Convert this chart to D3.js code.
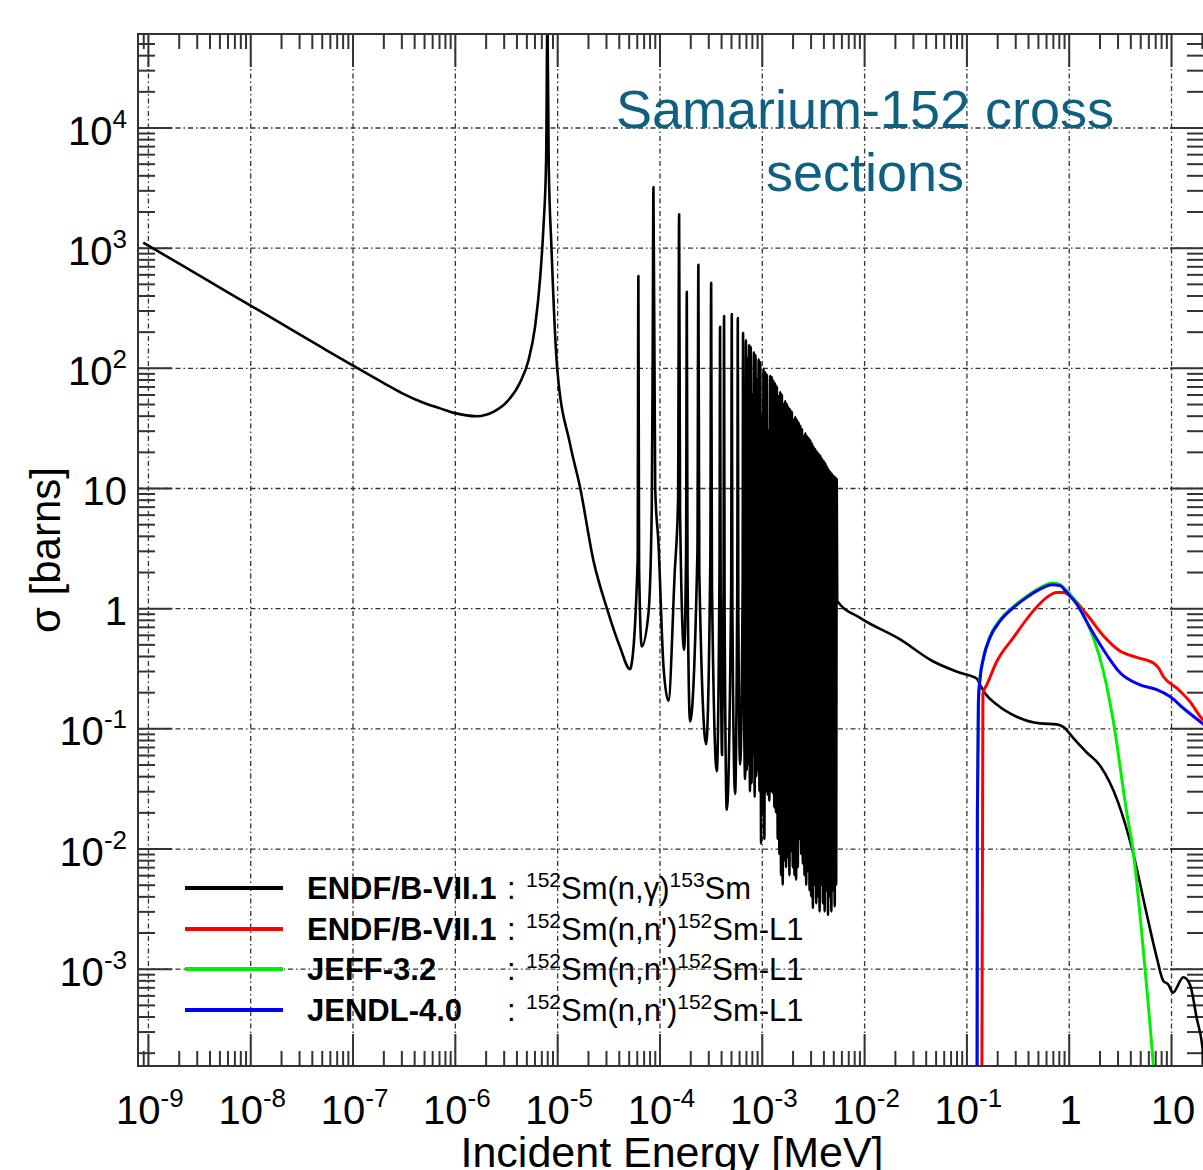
<!DOCTYPE html>
<html>
<head>
<meta charset="utf-8">
<script src="https://cdn.jsdelivr.net/npm/d3@7"></script>
<style>
  body { margin: 0; background: #fff; }
  svg { display: block; font-family: "Liberation Sans", Arial, Helvetica, sans-serif; }
</style>
</head>
<body>
<div id="chart"></div>
<script>
// ---- data (energy in MeV, cross section in barns) ----

// axis ticks
const xTickValues = [1e-9, 1e-8, 1e-7, 1e-6, 1e-5, 1e-4, 1e-3, 1e-2, 1e-1, 1, 10];
const xTickLabels = [["10", "-9"], ["10", "-8"], ["10", "-7"], ["10", "-6"], ["10", "-5"], ["10", "-4"],
  ["10", "-3"], ["10", "-2"], ["10", "-1"], ["1", ""], ["10", ""]];
const yTickValues = [1e-3, 1e-2, 1e-1, 1, 10, 100, 1e3, 1e4];
const yTickLabels = [["10", "-3"], ["10", "-2"], ["10", "-1"], ["1", ""], ["10", ""], ["10", "2"], ["10", "3"], ["10", "4"]];

// ENDF/B-VII.1 152Sm(n,g) : thermal 1/v part and the 8 eV resonance
const ngThermal = [
  [9.0e-10, 1100], [2e-9, 740], [5e-9, 468], [1e-8, 331], [2e-8, 234], [5e-8, 148], [1e-7, 105],
  [2e-7, 75], [3e-7, 62], [5e-7, 51], [7.2e-7, 46], [1.0e-6, 42], [1.64e-6, 39.6], [2.38e-6, 43],
  [3.22e-6, 52], [4.35e-6, 76], [5.24e-6, 115], [6.1e-6, 224], [6.82e-6, 560], [7.35e-6, 1500],
  [7.8e-6, 5300], [8.03e-6, 80000], [8.27e-6, 5000], [8.8e-6, 1000], [1.0e-5, 100], [1.34e-5, 23],
  [1.68e-5, 10], [2.26e-5, 2.5], [3.06e-5, 1.0], [4.13e-5, 0.47], [5.16e-5, 0.31]
];

// isolated resolved resonances
const ngResonances = [
  [5.25e-5, 0.32], [6.12e-5, 2.5], [6.22e-5, 580], [6.32e-5, 2.2], [6.71e-5, 0.48], [7.8e-5, 0.9],
  [8.41e-5, 6.8], [8.6e-5, 190], [8.73e-5, 3200], [9.08e-5, 10], [9.77e-5, 3.5], [1.094e-4, 0.33],
  [1.222e-4, 0.17], [1.41e-4, 2.0], [1.52e-4, 8], [1.556e-4, 1900], [1.59e-4, 6], [1.74e-4, 0.45],
  [1.82e-4, 3], [1.85e-4, 430], [1.88e-4, 2], [1.99e-4, 0.114], [2.35e-4, 3], [2.40e-4, 720],
  [2.45e-4, 2], [2.86e-4, 0.074], [3.14e-4, 2.5], [3.2e-4, 510], [3.26e-4, 1.5], [3.63e-4, 0.044],
  [3.86e-4, 2], [3.91e-4, 220], [3.96e-4, 1.5], [4.09e-4, 0.06], [4.23e-4, 1.5], [4.28e-4, 270],
  [4.33e-4, 1], [4.55e-4, 0.021], [5.02e-4, 1.5], [5.09e-4, 280], [5.16e-4, 1], [5.48e-4, 0.0285],
  [5.76e-4, 1.5], [5.83e-4, 260], [5.9e-4, 1], [6.14e-4, 0.05], [6.5e-4, 1.5], [6.56e-4, 195],
  [6.63e-4, 1], [6.87e-4, 0.038]
];

// dense resonance forest, peak / valley pairs
const ngForest = [
  [0.700e-3, 170], [0.712e-3, 0.045], [0.725e-3, 120], [0.738e-3, 0.05], [0.752e-3, 155], [0.766e-3, 0.03],
  [0.780e-3, 150], [0.795e-3, 0.035], [0.810e-3, 60], [0.824e-3, 0.06], [0.838e-3, 135], [0.852e-3, 0.027],
  [0.868e-3, 128], [0.884e-3, 0.04], [0.900e-3, 80], [0.916e-3, 0.045], [0.932e-3, 118], [0.949e-3, 0.03],
  [0.966e-3, 112], [0.984e-3, 0.011], [1.002e-3, 40], [1.020e-3, 0.02], [1.040e-3, 98], [1.060e-3, 0.012],
  [1.080e-3, 92], [1.100e-3, 0.03], [1.121e-3, 88], [1.142e-3, 0.028], [1.163e-3, 30], [1.185e-3, 0.025],
  [1.208e-3, 86], [1.231e-3, 0.03], [1.254e-3, 84], [1.278e-3, 0.029], [1.302e-3, 78], [1.327e-3, 0.022],
  [1.352e-3, 74], [1.378e-3, 0.02], [1.404e-3, 70], [1.431e-3, 0.012], [1.458e-3, 58], [1.486e-3, 0.009],
  [1.514e-3, 63], [1.543e-3, 0.006], [1.572e-3, 60], [1.602e-3, 0.005], [1.632e-3, 50], [1.663e-3, 0.008],
  [1.695e-3, 53], [1.727e-3, 0.007], [1.760e-3, 50], [1.794e-3, 0.0085], [1.828e-3, 47], [1.863e-3, 0.006],
  [1.898e-3, 45], [1.934e-3, 0.0095], [1.971e-3, 43], [2.009e-3, 0.007], [2.047e-3, 37], [2.086e-3, 0.006],
  [2.126e-3, 39], [2.166e-3, 0.0055], [2.207e-3, 37], [2.249e-3, 0.007], [2.292e-3, 35], [2.336e-3, 0.012],
  [2.380e-3, 33], [2.426e-3, 0.009], [2.472e-3, 31], [2.519e-3, 0.0075], [2.567e-3, 27], [2.616e-3, 0.006],
  [2.666e-3, 28.5], [2.717e-3, 0.005], [2.768e-3, 27], [2.821e-3, 0.0065], [2.875e-3, 26], [2.930e-3, 0.0045],
  [2.985e-3, 25], [3.042e-3, 0.004], [3.100e-3, 23.5], [3.159e-3, 0.0032], [3.219e-3, 22], [3.281e-3, 0.005],
  [3.343e-3, 21], [3.407e-3, 0.0035], [3.472e-3, 20], [3.538e-3, 0.004], [3.606e-3, 19.3], [3.674e-3, 0.003],
  [3.744e-3, 18.5], [3.816e-3, 0.005], [3.888e-3, 17.5], [3.963e-3, 0.0035], [4.038e-3, 16.8], [4.115e-3, 0.003],
  [4.194e-3, 16], [4.274e-3, 0.0045], [4.355e-3, 15], [4.438e-3, 0.0028], [4.523e-3, 14.2], [4.609e-3, 0.004],
  [4.697e-3, 13.6], [4.787e-3, 0.003], [4.878e-3, 13], [4.971e-3, 0.0045], [5.066e-3, 12.6], [5.163e-3, 0.0033],
  [5.261e-3, 12.2], [5.330e-3, 0.005], [5.40e-3, 11.8]
];

// smooth part above the resolved range
const ngFast = [
  [5.46e-3, 1.15], [9.14e-3, 0.83], [0.0225, 0.55], [0.0475, 0.36], [0.0867, 0.29], [0.126, 0.26],
  [0.136, 0.23], [0.152, 0.196], [0.198, 0.158], [0.310, 0.125], [0.525, 0.110], [0.764, 0.108],
  [0.885, 0.103], [1.11, 0.083], [1.50, 0.063], [2.02, 0.049], [3.05, 0.024], [4.13, 0.0102],
  [5.79, 2.84e-3], [7.25, 1.24e-3], [8.41, 7.9e-4], [9.40, 7.4e-4], [10.4, 6.3e-4], [13.2, 8.5e-4],
  [15.3, 7.4e-4], [17.8, 3.9e-4], [20.6, 1.95e-4], [22, 9e-5]
];

// 152Sm(n,n')152Sm-L1
const endfInel = [
  [0.1405, 1e-5], [0.145, 0.196], [0.158, 0.23], [0.198, 0.36], [0.288, 0.57], [0.451, 0.95],
  [0.610, 1.23], [0.764, 1.35], [0.885, 1.35], [1.03, 1.27], [1.50, 0.89], [2.18, 0.59], [3.18, 0.44],
  [4.62, 0.39], [6.72, 0.35], [7.52, 0.32], [8.41, 0.27], [11.4, 0.216], [15.3, 0.167], [20.0, 0.121],
  [22, 0.112]
];
const jeffInel = [
  [0.1268, 1e-5], [0.128, 0.02], [0.131, 0.17], [0.136, 0.265], [0.147, 0.39], [0.170, 0.58],
  [0.213, 0.80], [0.288, 1.03], [0.389, 1.26], [0.525, 1.48], [0.682, 1.62], [0.822, 1.58],
  [0.885, 1.49], [1.03, 1.31], [1.39, 0.89], [1.74, 0.57], [2.18, 0.30], [2.73, 0.114], [3.69, 0.02],
  [4.23, 0.01], [5.57, 1e-3], [6.72, 1.55e-4], [7.5, 4e-5]
];
const jendlInel = [
  [0.1268, 1e-5], [0.128, 0.02], [0.131, 0.167], [0.136, 0.26], [0.147, 0.386], [0.170, 0.57],
  [0.213, 0.78], [0.288, 1.01], [0.389, 1.23], [0.525, 1.44], [0.682, 1.57], [0.822, 1.54],
  [0.957, 1.35], [1.20, 1.08], [1.61, 0.69], [2.35, 0.41], [3.18, 0.29], [4.98, 0.23], [7.25, 0.21],
  [9.77, 0.184], [13.2, 0.147], [19.2, 0.114], [22, 0.104]
];

const legendLibs = ["ENDF/B-VII.1", "ENDF/B-VII.1", "JEFF-3.2", "JENDL-4.0"];
const legendColors = ["#000000", "#ff0000", "#00f000", "#0000ff"];
const legendReactions = [
  ["152", "Sm(n,\u03b3)", "153", "Sm"],
  ["152", "Sm(n,n')", "152", "Sm-L1"],
  ["152", "Sm(n,n')", "152", "Sm-L1"],
  ["152", "Sm(n,n')", "152", "Sm-L1"]
];
const titleLines = ["Samarium-152 cross", "sections"];

// ---- drawing ----
const width = 1203, height = 1170;
const plot = { left: 138, top: 34, right: 1204, bottom: 1066 };

const svg = d3.select("#chart").append("svg")
  .attr("width", width).attr("height", height)
  .style("background-color", "#fff");

const x = d3.scaleLog().domain([8e-10, 21]).range([plot.left, plot.right]);
const y = d3.scaleLog().domain([1.55e-4, 6e4]).range([plot.bottom, plot.top]);

// minor tick positions 2..9 in every decade inside the domain
function minors(scale, d0, d1) {
  const out = [];
  const [lo, hi] = scale.domain();
  for (let d = d0; d <= d1; d++) {
    for (let k = 2; k <= 9; k++) {
      const v = k * Math.pow(10, d);
      if (v > lo && v < hi) out.push(v);
    }
  }
  return out;
}
const xMinor = minors(x, -10, 1);
const yMinor = minors(y, -4, 4);

// grid
const gridStyle = (g) => {
  g.select(".domain").remove();
  g.selectAll(".tick line")
    .attr("stroke", "#333")
    .attr("stroke-width", 1.3)
    .attr("stroke-dasharray", "5,3,1.5,3");
};
svg.append("g")
  .attr("transform", `translate(0,${plot.bottom})`)
  .call(d3.axisBottom(x).tickValues(xTickValues).tickSize(-(plot.bottom - plot.top)).tickFormat(""))
  .call(gridStyle);
svg.append("g")
  .attr("transform", `translate(${plot.left},0)`)
  .call(d3.axisLeft(y).tickValues(yTickValues).tickSize(-(plot.right - plot.left)).tickFormat(""))
  .call(gridStyle);

// ticks on all four sides, pointing inwards
const tickStyle = (g) => {
  g.select(".domain").remove();
  g.selectAll(".tick line").attr("stroke", "#333").attr("stroke-width", 2);
};
const tickSpecs = [
  [d3.axisBottom, `translate(0,${plot.bottom})`, x, 32, 15],
  [d3.axisTop, `translate(0,${plot.top})`, x, 33, 15],
  [d3.axisLeft, `translate(${plot.left},0)`, y, 34, 17],
  [d3.axisRight, `translate(${plot.right},0)`, y, 34, 17]
];
tickSpecs.forEach(([axisFn, tr, scale, majorLen, minorLen]) => {
  const majors = scale === x ? xTickValues : yTickValues;
  const minorVals = scale === x ? xMinor : yMinor;
  svg.append("g").attr("transform", tr)
    .call(axisFn(scale).tickValues(majors).tickSize(-majorLen).tickFormat(""))
    .call(tickStyle);
  svg.append("g").attr("transform", tr)
    .call(axisFn(scale).tickValues(minorVals).tickSize(-minorLen).tickFormat(""))
    .call(tickStyle);
});

// clip for the curves
svg.append("clipPath").attr("id", "plot-clip")
  .append("rect")
  .attr("x", plot.left).attr("y", plot.top)
  .attr("width", plot.right - plot.left).attr("height", plot.bottom - plot.top);

const line = d3.line()
  .x((d) => x(d[0]))
  .y((d) => y(d[1]))
  .curve(d3.curveMonotoneX);

const curves = svg.append("g").attr("clip-path", "url(#plot-clip)");
const ngAll = ngThermal.concat(ngResonances, ngForest, ngFast);
const seriesList = [
  { data: ngAll, color: legendColors[0], w: 2.6 },
  { data: endfInel, color: legendColors[1], w: 3 },
  { data: jeffInel, color: legendColors[2], w: 3 },
  { data: jendlInel, color: legendColors[3], w: 3 }
];
curves.selectAll("path.series")
  .data(seriesList)
  .enter()
  .append("path")
  .attr("class", "series")
  .attr("d", (d) => line(d.data))
  .attr("fill", "none")
  .attr("stroke", (d) => d.color)
  .attr("stroke-width", (d) => d.w)
  .attr("stroke-linejoin", "round");

// frame
svg.append("rect")
  .attr("x", plot.left).attr("y", plot.top)
  .attr("width", plot.right - plot.left).attr("height", plot.bottom - plot.top)
  .attr("fill", "none").attr("stroke", "#333").attr("stroke-width", 2);

// tick labels
const xLab = svg.append("g").selectAll("text")
  .data(xTickValues.map((v, i) => ({ v, lab: xTickLabels[i] })))
  .enter().append("text")
  .attr("x", (d) => x(d.v) + 2)
  .attr("y", 1124)
  .attr("text-anchor", "middle")
  .attr("font-size", 40)
  .attr("fill", "#000");
xLab.append("tspan").text((d) => d.lab[0]);
xLab.filter((d) => d.lab[1] !== "")
  .append("tspan").attr("dy", -17).attr("font-size", 26).text((d) => d.lab[1]);

const yLab = svg.append("g").selectAll("text")
  .data(yTickValues.map((v, i) => ({ v, lab: yTickLabels[i] })))
  .enter().append("text")
  .attr("x", 127)
  .attr("y", (d) => y(d.v) + 17)
  .attr("text-anchor", "end")
  .attr("font-size", 40)
  .attr("fill", "#000");
yLab.append("tspan").text((d) => d.lab[0]);
yLab.filter((d) => d.lab[1] !== "")
  .append("tspan").attr("dy", -17).attr("font-size", 26).text((d) => d.lab[1]);

// axis titles
svg.append("text")
  .attr("transform", "translate(60,550) rotate(-90)")
  .attr("text-anchor", "middle")
  .attr("font-size", 42)
  .attr("fill", "#000")
  .text("\u03c3 [barns]");
svg.append("text")
  .attr("x", 672).attr("y", 1167)
  .attr("text-anchor", "middle")
  .attr("font-size", 43)
  .attr("fill", "#000")
  .text("Incident Energy [MeV]");

// title
svg.append("g").selectAll("text")
  .data(titleLines)
  .enter().append("text")
  .attr("x", 865)
  .attr("y", (d, i) => 128 + i * 63)
  .attr("text-anchor", "middle")
  .attr("font-size", 54)
  .attr("fill", "#0e5f80")
  .text((d) => d);

// legend (no box, sits on the grid)
const legendRowY = [888, 929, 969, 1010];
const leg = svg.append("g").selectAll("g")
  .data(legendLibs.map((lib, i) => ({ lib, color: legendColors[i], rx: legendReactions[i], ly: legendRowY[i] })))
  .enter().append("g");
leg.append("line")
  .attr("x1", 185).attr("x2", 283)
  .attr("y1", (d) => d.ly).attr("y2", (d) => d.ly)
  .attr("stroke", (d) => d.color).attr("stroke-width", 4);
leg.append("text")
  .attr("x", 307).attr("y", (d) => d.ly + 11)
  .attr("font-size", 31).attr("font-weight", "bold").attr("fill", "#000")
  .text((d) => d.lib);
leg.append("text")
  .attr("x", 507).attr("y", (d) => d.ly + 11)
  .attr("font-size", 31).attr("fill", "#000")
  .text(":");
const rxText = leg.append("text")
  .attr("x", 526).attr("y", (d) => d.ly + 11)
  .attr("font-size", 31).attr("fill", "#000");
rxText.append("tspan").attr("font-size", 21).attr("dy", -12).text((d) => d.rx[0]);
rxText.append("tspan").attr("dy", 12).text((d) => d.rx[1]);
rxText.append("tspan").attr("font-size", 21).attr("dy", -12).text((d) => d.rx[2]);
rxText.append("tspan").attr("dy", 12).text((d) => d.rx[3]);
</script>
</body>
</html>
